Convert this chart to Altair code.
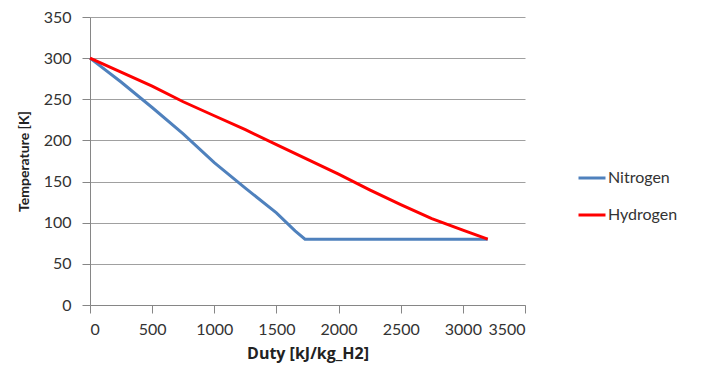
import altair as alt
import pandas as pd

# Data
n2_duty = [0, 250, 500, 750, 1000, 1250, 1500, 1650, 1730, 3200]
n2_temp = [300, 271, 240, 208, 173, 142, 112, 90, 80, 80]
h2_duty = [0, 250, 500, 750, 1000, 1250, 1500, 1750, 2000, 2250, 2500, 2750, 3000, 3200]
h2_temp = [300, 283, 266, 247, 230, 213, 195, 177, 159, 140, 122, 105, 91, 80]

series = ["Nitrogen", "Hydrogen"]
colors = ["#4F81BD", "#FF0000"]

rows = []
for i, (d, t) in enumerate(zip(n2_duty, n2_temp)):
    rows.append({"Duty": d, "Temp": t, "Series": "Nitrogen", "order": i})
for i, (d, t) in enumerate(zip(h2_duty, h2_temp)):
    rows.append({"Duty": d, "Temp": t, "Series": "Hydrogen", "order": i})
df = pd.DataFrame(rows)

FONT = "Lato"

chart = alt.Chart(df).mark_line(strokeWidth=3).encode(
    x=alt.X("Duty:Q",
            scale=alt.Scale(domain=[0, 3500], nice=False),
            axis=alt.Axis(values=list(range(0, 3501, 500)), title="Duty [kJ/kg_H2]",
                          format="d", grid=False, tickSize=8, labelPadding=8,
                          titlePadding=8, titleFont="Open Sans", titleFontSize=16,
                          domainColor="#868686", tickColor="#868686")),
    y=alt.Y("Temp:Q",
            scale=alt.Scale(domain=[0, 350], nice=False),
            axis=alt.Axis(values=list(range(0, 351, 50)), title="Temperature [K]",
                          format="d", grid=True, gridColor="#a0a0a0", tickSize=8,
                          labelPadding=11, titlePadding=12,
                          domainColor="#868686", tickColor="#868686")),
    color=alt.Color("Series:N",
                    scale=alt.Scale(domain=series, range=colors),
                    legend=alt.Legend(title=None, orient="none", legendX=487, legendY=146,
                                      symbolType="stroke", symbolStrokeWidth=3,
                                      symbolSize=729, rowPadding=14,
                                      labelFontSize=16, labelFont=FONT,
                                      labelColor="#333333", labelOffset=1)),
    order="order:Q",
).properties(
    width=435,
    height=288,
    background="white",
    autosize=alt.AutoSizeParams(type="none"),
    padding={"left": 90, "top": 17, "right": 179, "bottom": 64},
).configure_axis(
    labelFont=FONT,
    labelFontSize=16,
    labelColor="#333333",
    titleFont=FONT,
    titleFontSize=14,
    titleFontWeight="bold",
    titleColor="#222222",
).configure_view(
    stroke=None
)

chart.save("out.html", embed_options={"renderer": "svg", "actions": False})
